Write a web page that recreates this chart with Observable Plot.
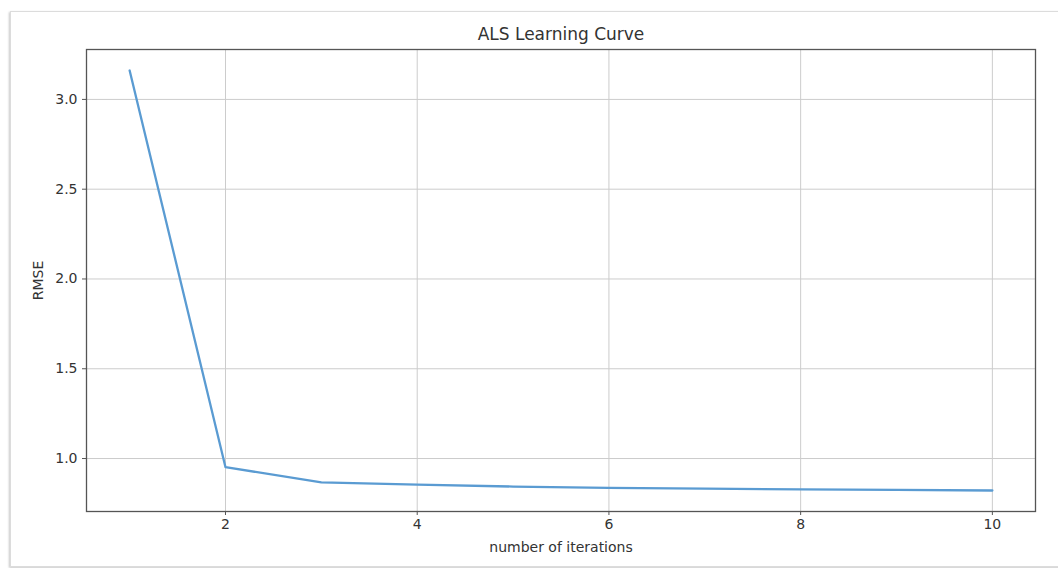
<!DOCTYPE html>
<html><head><meta charset="utf-8">
<script src="https://cdn.jsdelivr.net/npm/d3@7"></script>
<script src="https://cdn.jsdelivr.net/npm/@observablehq/plot@0.6"></script>
<style>
body{margin:0;background:#fff;}
#wrap{position:relative;width:1058px;height:568px;overflow:hidden;background:#fff;}
#border{position:absolute;left:10px;top:11px;width:1060px;height:554px;border:1px solid #dcdcdc;box-shadow:-1px 1px 2px #c8c8c8;}
#chart{position:absolute;left:0;top:0;}
</style></head><body>
<div id="wrap"><div id="border"></div><div id="chart"></div></div>
<script>
const iterations = [1, 2, 3, 4, 5, 6, 7, 8, 9, 10];
const rmse = [3.161, 0.952, 0.867, 0.855, 0.844, 0.837, 0.832, 0.828, 0.825, 0.822];
const xTicks = [2, 4, 6, 8, 10];
const yTicks = [1.0, 1.5, 2.0, 2.5, 3.0];
const title = "ALS Learning Curve";
const xLabel = "number of iterations";
const yLabel = "RMSE";

const data = iterations.map((x, i) => ({x, y: rmse[i]}));

const chart = Plot.plot({
  width: 1058, height: 568,
  marginLeft: 86, marginRight: 23, marginTop: 49, marginBottom: 57,
  style: {fontFamily: "DejaVu Sans", fontSize: "14px", color: "#333", background: "transparent"},
  x: {domain: [0.55, 10.45]},
  y: {domain: [0.705, 3.278]},
  marks: [
    Plot.gridX(xTicks, {stroke: "#cccccc", strokeOpacity: 1}),
    Plot.gridY(yTicks, {stroke: "#cccccc", strokeOpacity: 1}),
    Plot.axisX(xTicks, {tickSize: 4, tickPadding: 4, stroke: "#555", label: xLabel, labelAnchor: "center", labelOffset: 40, labelArrow: "none"}),
    Plot.axisY(yTicks, {tickSize: 4, tickPadding: 5, stroke: "#555", tickFormat: d3.format(".1f"), label: yLabel, labelAnchor: "center", labelOffset: 53, labelArrow: "none"}),
    Plot.frame({stroke: "#555", strokeWidth: 1.3}),
    Plot.line(data, {x: "x", y: "y", stroke: "#5a9bd2", strokeWidth: 2.3}),
    Plot.text([title], {frameAnchor: "top", dy: -15, lineAnchor: "middle", fontSize: 17, fill: "#333"})
  ]
});
document.getElementById("chart").appendChild(chart);
</script>
</body></html>
